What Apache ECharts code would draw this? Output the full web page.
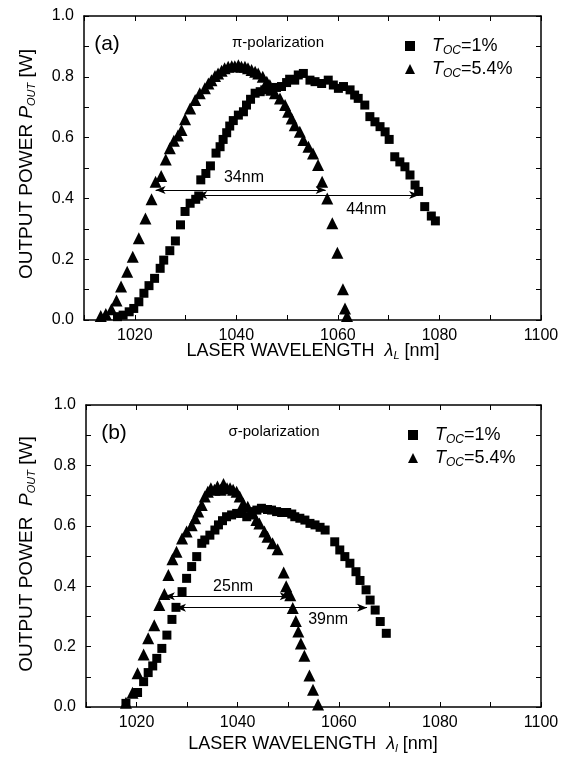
<!DOCTYPE html>
<html>
<head>
<meta charset="utf-8">
<script src="https://cdn.jsdelivr.net/npm/echarts@6/dist/echarts.min.js"></script>
<style>
  html, body { margin: 0; padding: 0; background: #fff; }
  #chart { width: 569px; height: 759px; }
</style>
</head>
<body>
<div id="chart"></div>
<script>
// (a) pi-polarization, T_OC = 1% (squares) and 5.4% (triangles)
const sqA = [
  [1016.6, 0.011], [1017.7, 0.016], [1018.9, 0.027], [1019.8, 0.038], [1020.8, 0.06],
  [1021.8, 0.088], [1022.8, 0.113], [1023.9, 0.137], [1025.0, 0.17], [1025.7, 0.197],
  [1026.9, 0.228], [1028.0, 0.26], [1029.0, 0.313], [1029.9, 0.357], [1030.9, 0.384],
  [1032.0, 0.397], [1032.6, 0.408], [1033.0, 0.461], [1034.0, 0.482], [1034.9, 0.507],
  [1036.0, 0.549], [1036.8, 0.57], [1037.4, 0.594], [1038.1, 0.616], [1038.7, 0.638],
  [1039.4, 0.656], [1040.4, 0.674], [1041.4, 0.685], [1042.0, 0.707], [1042.8, 0.726],
  [1043.7, 0.746], [1044.7, 0.751], [1045.6, 0.757], [1046.9, 0.759], [1047.9, 0.765],
  [1048.9, 0.768], [1049.9, 0.781], [1050.5, 0.792], [1051.5, 0.789], [1052.2, 0.806],
  [1053.2, 0.811], [1054.5, 0.789], [1055.5, 0.784], [1056.8, 0.778], [1058.1, 0.789],
  [1059.1, 0.773], [1060.1, 0.762], [1061.1, 0.768], [1062.4, 0.757], [1063.3, 0.74],
  [1064.0, 0.729], [1065.3, 0.707], [1066.3, 0.669], [1067.3, 0.652], [1068.3, 0.636],
  [1069.3, 0.619], [1070.1, 0.594], [1071.2, 0.537], [1072.2, 0.52], [1073.2, 0.504],
  [1074.2, 0.477], [1075.2, 0.444], [1075.9, 0.423], [1077.1, 0.373], [1078.4, 0.342],
  [1079.2, 0.326]
];
const triA = [
  [1013.3, 0.013], [1014.3, 0.02], [1015.4, 0.035], [1016.4, 0.064], [1017.3, 0.11],
  [1018.5, 0.159], [1019.6, 0.208], [1020.8, 0.269], [1022.1, 0.334], [1023.3, 0.397],
  [1024.1, 0.455], [1025.2, 0.474], [1026.1, 0.528], [1026.9, 0.565], [1027.7, 0.59],
  [1028.5, 0.607], [1029.2, 0.625], [1029.9, 0.66], [1030.9, 0.696], [1031.9, 0.724],
  [1032.8, 0.746], [1033.8, 0.762], [1034.5, 0.778], [1035.1, 0.789], [1035.8, 0.803],
  [1036.4, 0.811], [1037.1, 0.82], [1037.7, 0.828], [1038.4, 0.833], [1039.1, 0.835],
  [1039.7, 0.835], [1040.4, 0.838], [1041.0, 0.833], [1041.7, 0.833], [1042.3, 0.828],
  [1043.0, 0.822], [1043.7, 0.817], [1044.3, 0.811], [1045.2, 0.8], [1046.0, 0.784],
  [1046.6, 0.773], [1046.9, 0.757], [1047.6, 0.746], [1048.6, 0.729], [1049.6, 0.707],
  [1050.2, 0.685], [1050.9, 0.663], [1051.5, 0.641], [1052.5, 0.619], [1053.2, 0.592],
  [1054.2, 0.57], [1055.1, 0.548], [1056.1, 0.51], [1056.9, 0.455], [1057.9, 0.40],
  [1058.9, 0.318], [1059.9, 0.221], [1061.0, 0.101], [1061.4, 0.038], [1061.8, 0.013]
];
// (b) sigma-polarization
const sqB = [
  [1017.9, 0.012], [1020.2, 0.048], [1021.4, 0.084], [1022.3, 0.114], [1023.2, 0.136],
  [1024.0, 0.161], [1025.0, 0.194], [1026.0, 0.238], [1027.0, 0.29], [1027.8, 0.33],
  [1029.0, 0.382], [1029.9, 0.426], [1030.9, 0.465], [1031.9, 0.498], [1032.9, 0.542],
  [1033.5, 0.553], [1034.5, 0.569], [1035.5, 0.586], [1036.2, 0.603], [1037.0, 0.617],
  [1037.8, 0.63], [1038.8, 0.636], [1039.8, 0.641], [1040.8, 0.641], [1041.8, 0.63],
  [1042.8, 0.647], [1043.8, 0.652], [1044.7, 0.658], [1045.9, 0.654], [1046.7, 0.652],
  [1047.7, 0.647], [1048.7, 0.644], [1049.7, 0.644], [1050.7, 0.639], [1051.3, 0.63],
  [1052.3, 0.625], [1053.3, 0.619], [1054.3, 0.608], [1055.3, 0.603], [1056.3, 0.595],
  [1057.3, 0.586], [1059.2, 0.547], [1060.2, 0.52], [1061.2, 0.498], [1062.2, 0.476],
  [1063.4, 0.448], [1064.2, 0.419], [1065.4, 0.388], [1066.2, 0.354], [1067.2, 0.321],
  [1068.2, 0.283], [1069.4, 0.244]
];
const triB = [
  [1017.9, 0.014], [1019.2, 0.047], [1020.2, 0.112], [1021.4, 0.174], [1022.3, 0.228],
  [1023.5, 0.271], [1024.5, 0.338], [1025.5, 0.374], [1026.3, 0.437], [1027.1, 0.489],
  [1027.9, 0.514], [1029.0, 0.558], [1029.9, 0.581], [1030.9, 0.602], [1031.6, 0.625],
  [1032.2, 0.647], [1032.9, 0.669], [1033.5, 0.697], [1034.1, 0.713], [1034.7, 0.724],
  [1035.4, 0.719], [1036.0, 0.73], [1036.6, 0.719], [1037.2, 0.738], [1037.9, 0.724],
  [1038.5, 0.724], [1039.1, 0.719], [1039.8, 0.713], [1040.4, 0.697], [1041.1, 0.674],
  [1042.0, 0.663], [1043.0, 0.641], [1043.7, 0.619], [1044.3, 0.608], [1045.3, 0.581],
  [1045.9, 0.564], [1046.9, 0.542], [1047.9, 0.522], [1049.1, 0.445], [1049.6, 0.40],
  [1049.9, 0.38], [1050.4, 0.37], [1050.9, 0.328], [1051.5, 0.285], [1052.0, 0.25],
  [1052.5, 0.21], [1053.2, 0.17], [1054.2, 0.104], [1054.9, 0.057], [1055.9, 0.008]
];

// FWHM arrows: [from, to, level]
const arrowsA = [[1024.1, 1057.6, 0.428], [1032.3, 1076.0, 0.411]];
const arrowsB = [[1025.6, 1050.3, 0.367], [1027.8, 1065.6, 0.329]];
// arrow captions: [x, y, text]
const notesA = [[1041.5, 0.468, '34nm'], [1065.6, 0.362, '44nm']];
const notesB = [[1039.1, 0.400, '25nm'], [1057.9, 0.288, '39nm']];

const xMin = 1010, xMax = 1100, xStep = 10;
const yMin = 0, yMax = 1, yStep = 0.1;

const F = 'Liberation Sans, Arial, sans-serif';
const chart = echarts.init(document.getElementById('chart'), null, { renderer: 'canvas' });

const grids = [
  { left: 84, top: 16, width: 457, height: 304 },
  { left: 86, top: 405, width: 455, height: 302 }
];

function xAxisPair(gi) {
  const base = {
    type: 'value', gridIndex: gi, min: xMin, max: xMax, interval: xStep,
    axisLine: { onZero: false, lineStyle: { color: '#000', width: 1.5 } },
    axisTick: { inside: true, length: 5, lineStyle: { color: '#000', width: 1 } },
    splitLine: { show: false }
  };
  return [
    Object.assign({}, base, {
      position: 'bottom',
      axisLabel: {
        color: '#000', fontSize: 16, fontFamily: F, margin: 8,
        formatter: v => (v % 20 === 0 ? String(v) : '')
      }
    }),
    Object.assign({}, base, { position: 'top', axisLabel: { show: false } })
  ];
}
function yAxisPair(gi) {
  const base = {
    type: 'value', gridIndex: gi, min: yMin, max: yMax, interval: yStep,
    axisLine: { onZero: false, lineStyle: { color: '#000', width: 1.5 } },
    axisTick: { inside: true, length: 5, lineStyle: { color: '#000', width: 1 } },
    splitLine: { show: false }
  };
  return [
    Object.assign({}, base, {
      position: 'left',
      axisLabel: {
        color: '#000', fontSize: 16, fontFamily: F, margin: 10,
        formatter: v => (Math.round(v * 10) % 2 === 0 ? v.toFixed(1) : '')
      }
    }),
    Object.assign({}, base, { position: 'right', axisLabel: { show: false } })
  ];
}

function arrowLines(list) {
  return {
    silent: true, animation: false,
    symbol: ['arrow', 'arrow'], symbolSize: [6, 10],
    lineStyle: { color: '#000', width: 1, type: 'solid' },
    label: { show: false },
    emphasis: { disabled: true },
    data: list.map(a => [{ coord: [a[0], a[2]] }, { coord: [a[1], a[2]] }])
  };
}
function notePoints(list) {
  return {
    silent: true, animation: false,
    symbol: 'circle', symbolSize: 0,
    label: { show: true, position: 'inside', color: '#000', fontSize: 16, fontFamily: F, formatter: '{b}' },
    data: list.map(n => ({ coord: [n[0], n[1]], name: n[2] }))
  };
}

const rich = {
  i: { fontStyle: 'italic', fontSize: 18, fontFamily: F, color: '#000', padding: [0, 0, 0, 12] },
  s: { fontSize: 12, fontFamily: F, fontStyle: 'italic', color: '#000', verticalAlign: 'bottom', padding: [10, 0, 0, 0] },
  n: { fontSize: 18, fontFamily: F, color: '#000' }
};
const legendFmt = name => (name.endsWith('1') ? '{i|T}{s|OC}{n|=1%}' : '{i|T}{s|OC}{n|=5.4%}');

function legendFor(prefix, left, top) {
  return {
    orient: 'vertical', left: left, top: top,
    itemWidth: 10, itemHeight: 10, itemGap: 3,
    selectedMode: false,
    data: [{ name: prefix + '1', icon: 'rect' }, { name: prefix + '5', icon: 'triangle' }],
    formatter: legendFmt,
    textStyle: { rich: rich }
  };
}

function titleRich(size) {
  return {
    t: { fontSize: size, fontFamily: F, color: '#000' },
    it: { fontSize: size, fontFamily: F, fontStyle: 'italic', color: '#000' },
    s: { fontSize: 11, fontFamily: F, fontStyle: 'italic', color: '#000', verticalAlign: 'bottom', padding: [9, 0, 0, 0] }
  };
}
function textEl(x, y, rot, text, extra) {
  return {
    type: 'text', x: x, y: y, rotation: rot, silent: true,
    style: Object.assign({ text: text, rich: titleRich(18), align: 'center', verticalAlign: 'middle', fill: '#000', fontFamily: F }, extra || {})
  };
}

const sqStyle = { symbol: 'rect', symbolSize: 9, itemStyle: { color: '#000', opacity: 1 } };
const triStyle = { symbol: 'triangle', symbolSize: 12, itemStyle: { color: '#000', opacity: 1 } };

const option = {
  animation: false,
  backgroundColor: '#fff',
  grid: grids,
  xAxis: [...xAxisPair(0), ...xAxisPair(1)],
  yAxis: [...yAxisPair(0), ...yAxisPair(1)],
  legend: [legendFor('a', 400, 32), legendFor('b', 403, 421)],
  series: [
    Object.assign({ type: 'scatter', name: 'a1', xAxisIndex: 0, yAxisIndex: 0, data: sqA, z: 3 }, sqStyle,
      { markLine: arrowLines(arrowsA), markPoint: notePoints(notesA) }),
    Object.assign({ type: 'scatter', name: 'a5', xAxisIndex: 0, yAxisIndex: 0, data: triA, z: 3 }, triStyle),
    Object.assign({ type: 'scatter', name: 'b1', xAxisIndex: 2, yAxisIndex: 2, data: sqB, z: 3 }, sqStyle,
      { markLine: arrowLines(arrowsB), markPoint: notePoints(notesB) }),
    Object.assign({ type: 'scatter', name: 'b5', xAxisIndex: 2, yAxisIndex: 2, data: triB, z: 3 }, triStyle)
  ],
  graphic: [
    textEl(107, 44, 0, '(a)', { fontSize: 21, rich: null }),
    textEl(278, 43, 0, '\u03c0-polarization', { fontSize: 15, rich: null }),
    textEl(313, 351, 0, '{t|LASER WAVELENGTH  }{it|\u03bb}{s|L}{t| [nm]}'),
    textEl(27, 164, Math.PI / 2, '{t|OUTPUT POWER }{it|P}{s|OUT}{t| [W]}', { rich: titleRich(19) }),
    textEl(114, 433, 0, '(b)', { fontSize: 21, rich: null }),
    textEl(274, 432, 0, '\u03c3-polarization', { fontSize: 15, rich: null }),
    textEl(313, 744, 0, '{t|LASER WAVELENGTH  }{it|\u03bb}{s|l}{t| [nm]}'),
    textEl(27, 554, Math.PI / 2, '{t|OUTPUT POWER  }{it|P}{s|OUT}{t| [W]}', { rich: titleRich(19) })
  ]
};

chart.setOption(option);
</script>
</body>
</html>
